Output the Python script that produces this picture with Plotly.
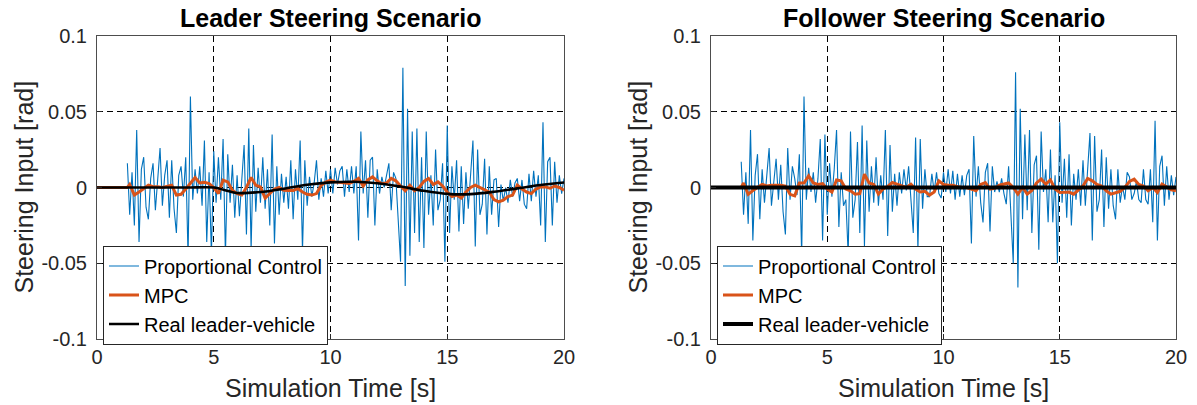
import numpy as np
import plotly.graph_objects as go

# ---------------- data (values in milli-radians, converted to rad below) -------------
t_pc_start = 1.3          # proportional-control samples every 0.1 s from 1.3 s
t_mpc_start = 1.4         # MPC samples every 0.2 s from 1.4 s

leader_pc = [
    16, -18, 10, -25, 38, -36, 12,
    20, -13, -21, 6, 16, -15, 4, 26, -12, 8,
    18, -20, 18, -14, -30, 8, 14, -6, 20, -46,
    60, -8, 12, -4, 14, -12, 31, -36, 10, -44,
    24, -10, 20, -8, 32, -45, 22, -10, 15, -20,
    8, -19, 5, 28, -31, 39, -41, 28, -16, 13,
    -10, 20, -14, 12, -25, 35, -37, 14, -18, 9,
    -10, 7, -14, 18, -21, 12, -8, 31, -42, 18,
    -12, 7, -6, 3, 18, -8, 6, -6, 11, -4,
    12, -4, 13, 2, 11, 14, -6, 12, -3, 14,
    -4, 14, -35, 37, -4, 18, -20, 18, 20, -25,
    12, -4, 7, 0, 8, 16, -15, 10, 6, -20,
    -49, 79, -65, 52, -45, 37, -30, 39, -36, 20,
    -40, 37, -18, 8, -25, 25, -15, -8, 16, -49,
    41, -30, 14, -8, 18, -29, 14, -24, 10, -14,
    12, 31, -39, 25, -18, -11, 19, -31, 14, -18,
    5, 6, -26, 2, -9, 0, -10, 5, -6, 3,
    6, -9, 5, -11, -14, 9, -9, 11, -6, 8,
    -25, 43, -36, 17, 20, -25, 17, -10, 8, -4,
    6,
]

leader_mpc = [
    2, -5, -3, -0.5, 1.5, 0.5, 0.5, 0, 0.5, 1.5,
    -5, -4.5, -1, 2.6, 6.6, 3, 3.5, 2.6, 0, -4,
    4.8, 3.7, -2, -4, -5, 0, 6.6, 1.5, 0.4, -7,
    -4, -1, 0, -1.8, -2, -2, -0.7, -3, -4.5, -5,
    -4, 1.5, 3.5, 4.8, 3.7, 3.2, 3, 2.6, 4, 6,
    1, 5, 7, 4.4, 2.5, 3, 6, 4.4, 1, -2.2,
    1.5, -2.2, 0, 4, 6, 2, 3.7, 1, -3, -6,
    -5, -7, -3, 0, 1.5, 0, -1.5, -3, -8, -9.5,
    -8.4, -6, -5, 1.5, -1, -3, -4, -1, 0.4, 0.4,
    -0.5, 1, 0, -1.8,
]

leader_real_t = list(range(0, 21))
leader_real = [0, 0, 0, 0, 0, 0, -3.6, -3.0, -0.8, 1.8, 3.4, 3.8, 2.8, 0.6,
               -2.2, -4.2, -4.4, -2.8, -0.6, 1.6, 3.3]

follower_pc = [
    17, -18, 10, -24, 38, -35, 8,
    22, -21, 12, -10, 6, 26, -12, 4, 19, -8,
    15, -16, -31, 26, -8, 14, 6, -5, 22, -45,
    60, -8, 13, -3, 10, -10, 6, 32, -35, 35,
    -18, 16, -6, 12, 38, -26, 10, -12, -8, -44,
    37, -20, -8, 30, -30, 41, -39, 31, -16, 14,
    -10, 20, -12, 8, -8, 38, -32, 28, -16, 9,
    -12, 10, -4, 12, -2, 14, -8, -30, 33, -41,
    32, -14, 12, -6, -6, 9, -3, 10, -4, -7,
    10, -3, 12, -4, 11, -8, 9, -6, 8, -5,
    8, 12, -37, 34, -6, 14, -10, -23, 10, 16,
    -29, 14, -3, 4, -3, 6, -4, -11, 14, -15,
    -50, 76, -66, 52, -21, 35, -15, 38, -30, 15,
    21, -41, 37, -3, 12, -23, 25, -23, 8, -50,
    43, -10, 19, -20, 22, -25, 9, -8, 12, -12,
    18, -12, 10, 36, -35, 34, -16, -8, 25, -26,
    20, -14, 12, -12, -21, 12, -10, 1, -8, 10,
    7, -8, -4, 4, -8, -10, 12, -8, -11, 12,
    -23, 44, -35, 14, 21, -12, 14, -8, 8, -5,
    7,
]

follower_mpc = [
    3, -4.5, -2, 0, 2, 1, 1.5, 1.5, 1.5, 1,
    -4.5, -5.5, 3, 3, 7.7, 3, 2, 2.5, -1, -3,
    5, 4.4, -1, -2.2, -4.4, -4, 8.8, 3, 2, -4.4,
    -1, 0.7, 3.3, 2.2, 1, 0, 2.2, -1, -3, -2.5,
    -5, -3, 4.4, 2, 1.5, 1.5, 0.5, 0, 0, -1,
    -2.2, 2, 3.3, -1, -0.5, 1.5, 2.2, 3, 0, -4.4,
    0, -4.4, -2, 3, 5.5, 2.2, 5, -1, -3.3, -3,
    -3, -4.4, -2, 1, 6, 4.4, 2, 1, -2.2, -4.4,
    -3.5, -2.5, 0, 4, 5.5, 2, 1, -2.2, 0, -3.3,
    2.2, 0.5, -1.5, -2.2,
]

follower_real_t = [0, 20]
follower_real = [0, 0]

x_ticks = [0, 5, 10, 15, 20]
y_ticks = [-0.1, -0.05, 0, 0.05, 0.1]
y_ticktext = ["-0.1", "-0.05", "0", "0.05", "0.1"]

titles = ["Leader Steering Scenario", "Follower Steering Scenario"]
x_label = "Simulation Time [s]"
y_label = "Steering Input [rad]"
names = ["Proportional Control", "MPC", "Real leader-vehicle"]

# ---------------- figure ----------------
W, H = 1197, 405
BLUE, ORANGE, BLACK = "#0072BD", "#D95319", "#000000"
FONT = "Liberation Sans, Arial, Helvetica, sans-serif"
TXT = "#262626"


def px(x):
    """page pixel x -> paper fraction"""
    return x / W


def py(y):
    """page pixel y -> paper fraction"""
    return 1 - y / H


def series_t(start, step, n):
    return [round(start + step * i, 2) for i in range(n)]


fig = go.Figure()

panels = [
    dict(pc=leader_pc, mpc=leader_mpc, rt=leader_real_t, r=leader_real,
         xa="x", ya="y", leg="legend", bw=2.6, x0=97, x1=564),
    dict(pc=follower_pc, mpc=follower_mpc, rt=follower_real_t, r=follower_real,
         xa="x2", ya="y2", leg="legend2", bw=4, x0=711, x1=1176),
]

for p in panels:
    t_pc = series_t(t_pc_start, 0.1, len(p["pc"]))
    t_mpc = [0.0, 1.3] + series_t(t_mpc_start, 0.2, len(p["mpc"]))
    v_mpc = [0.0, 0.0] + list(p["mpc"])
    fig.add_trace(go.Scatter(
        x=t_pc, y=np.array(p["pc"]) / 1000.0, mode="lines", name=names[0],
        line=dict(color=BLUE, width=1.1), xaxis=p["xa"], yaxis=p["ya"], legend=p["leg"]))
    fig.add_trace(go.Scatter(
        x=t_mpc, y=np.array(v_mpc) / 1000.0, mode="lines", name=names[1],
        line=dict(color=ORANGE, width=3), xaxis=p["xa"], yaxis=p["ya"], legend=p["leg"]))
    fig.add_trace(go.Scatter(
        x=p["rt"], y=np.array(p["r"]) / 1000.0, mode="lines", name=names[2],
        line=dict(color=BLACK, width=p["bw"], shape="spline", smoothing=0.8),
        xaxis=p["xa"], yaxis=p["ya"], legend=p["leg"]))

top, bottom = 36, 339

axis_common = dict(
    showgrid=True, gridcolor="black", gridwidth=1, griddash="6px,4px",
    zeroline=False, showline=True, linecolor="#4d4d4d", linewidth=1, mirror=True,
    ticks="inside", ticklen=5, tickcolor="#262626", automargin=False,
    tickfont=dict(family=FONT, size=20, color=TXT),
)

layout = dict(
    width=W, height=H, margin=dict(l=0, r=0, t=0, b=0, autoexpand=False),
    paper_bgcolor="white", plot_bgcolor="white", showlegend=True,
    font=dict(family=FONT, color=TXT),
)

annotations = []
for i, p in enumerate(panels):
    sfx = "" if i == 0 else "2"
    layout["xaxis" + sfx] = dict(
        axis_common, domain=[px(p["x0"]), px(p["x1"])], range=[0, 20],
        tickvals=x_ticks, ticktext=[str(v) for v in x_ticks],
        anchor="y" + sfx, ticklabelstandoff=0)
    layout["yaxis" + sfx] = dict(
        axis_common, domain=[py(bottom), py(top)], range=[-0.1, 0.1],
        tickvals=y_ticks, ticktext=y_ticktext, anchor="x" + sfx,
        ticklabelstandoff=5)
    cx = (p["x0"] + p["x1"]) / 2
    annotations.append(dict(
        text="<b>%s</b>" % titles[i], x=px(cx), y=py(18), xref="paper", yref="paper",
        xanchor="center", yanchor="middle", showarrow=False,
        font=dict(family=FONT, size=25, color="black")))
    annotations.append(dict(
        text=x_label, x=px(cx), y=py(388), xref="paper", yref="paper",
        xanchor="center", yanchor="middle", showarrow=False,
        font=dict(family=FONT, size=25, color=TXT)))
    annotations.append(dict(
        text=y_label, x=px(p["x0"] - 74), y=py((top + bottom) / 2),
        xref="paper", yref="paper", xanchor="center", yanchor="middle",
        textangle=-90, showarrow=False,
        font=dict(family=FONT, size=25, color=TXT)))
    layout["legend" if i == 0 else "legend2"] = dict(
        x=px(p["x0"] + 6), y=py(295), xanchor="left", yanchor="middle",
        bgcolor="white", bordercolor="#262626", borderwidth=1,
        font=dict(family=FONT, size=20, color="black"),
        tracegroupgap=0, itemwidth=30)

layout["annotations"] = annotations
fig.update_layout(**layout)

fig.write_html(
    "out.html",
    config={"displayModeBar": False},
    post_script="document.body.style.margin='0px';document.body.style.overflow='hidden';",
)
